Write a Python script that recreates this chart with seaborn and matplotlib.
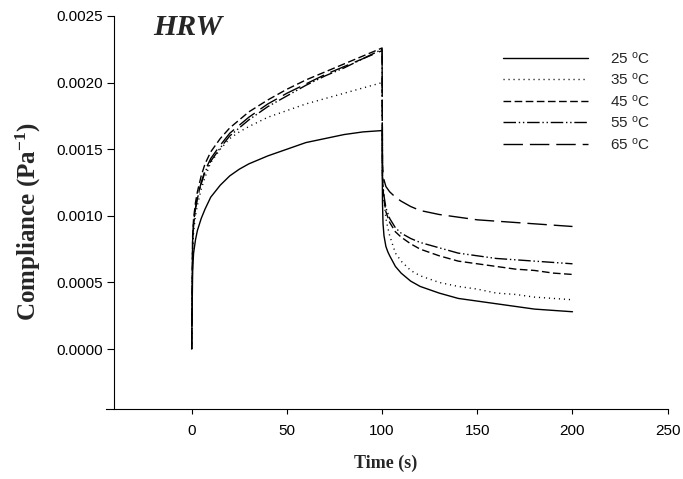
import matplotlib
matplotlib.use("Agg")
import matplotlib.pyplot as plt
from matplotlib.ticker import FormatStrFormatter
import numpy as np
import pandas as pd
import seaborn as sns

# ---- data ----
TIME = [0, 0.5, 1, 2, 3, 5, 7, 10, 15, 20, 25, 30, 40, 50, 60, 70, 80, 90, 100,
        100.2, 100.5, 101, 102, 103, 104, 107, 110, 115, 120, 130, 140, 150, 160, 170,
        180, 190, 200]

J_25 = [0, 0.00060, 0.00072, 0.00082, 0.00089, 0.00098, 0.00105, 0.00114, 0.00123, 0.00130,
        0.00135, 0.00139, 0.00145, 0.00150, 0.00155, 0.00158, 0.00161, 0.00163, 0.00164,
        0.00110, 0.00094, 0.00085, 0.00077, 0.00073, 0.00070, 0.00062, 0.00057, 0.00051,
        0.00047, 0.00042, 0.00038, 0.00036, 0.00034, 0.00032, 0.00030, 0.00029, 0.00028]
J_35 = [0, 0.00075, 0.00088, 0.00100, 0.00108, 0.00120, 0.00129, 0.00140, 0.00150, 0.00158,
        0.00163, 0.00167, 0.00174, 0.00179, 0.00184, 0.00188, 0.00192, 0.00196, 0.00200,
        0.00130, 0.00120, 0.00112, 0.00098, 0.00091, 0.00085, 0.00072, 0.00066, 0.00059,
        0.00055, 0.00050, 0.00047, 0.00045, 0.00042, 0.00041, 0.00039, 0.00038, 0.00037]
J_45 = [0, 0.00085, 0.00098, 0.00110, 0.00118, 0.00130, 0.00139, 0.00148, 0.00158, 0.00166,
        0.00172, 0.00178, 0.00187, 0.00195, 0.00202, 0.00208, 0.00214, 0.00220, 0.00226,
        0.00130, 0.00120, 0.00112, 0.00103, 0.00099, 0.00095, 0.00088, 0.00084, 0.00079,
        0.00075, 0.00070, 0.00066, 0.00064, 0.00062, 0.00060, 0.00059, 0.00057, 0.00056]
J_55 = [0, 0.00080, 0.00093, 0.00105, 0.00113, 0.00124, 0.00133, 0.00141, 0.00151, 0.00160,
        0.00166, 0.00172, 0.00182, 0.00190, 0.00198, 0.00205, 0.00211, 0.00218, 0.00225,
        0.00130, 0.00122, 0.00115, 0.00106, 0.00102, 0.00098, 0.00091, 0.00087, 0.00083,
        0.00080, 0.00076, 0.00072, 0.00070, 0.00068, 0.00067, 0.00066, 0.00065, 0.00064]
J_65 = [0, 0.00082, 0.00095, 0.00106, 0.00114, 0.00125, 0.00134, 0.00143, 0.00153, 0.00162,
        0.00168, 0.00174, 0.00184, 0.00192, 0.00199, 0.00206, 0.00212, 0.00218, 0.00224,
        0.00140, 0.00132, 0.00127, 0.00122, 0.00120, 0.00118, 0.00114, 0.00111, 0.00107,
        0.00104, 0.00101, 0.00099, 0.00097, 0.00096, 0.00095, 0.00094, 0.00093, 0.00092]

TEMPS = ["25", "35", "45", "55", "65"]
SERIES = [J_25, J_35, J_45, J_55, J_65]
XTICKS = [0, 50, 100, 150, 200, 250]
YTICKS = [0.0000, 0.0005, 0.0010, 0.0015, 0.0020, 0.0025]

sns.set_style("ticks")
plt.rcParams["font.family"] = ["Liberation Sans", "DejaVu Sans"]
plt.rcParams["mathtext.default"] = "regular"

rows = []
for temp, vals in zip(TEMPS, SERIES):
    for t, v in zip(TIME, vals):
        rows.append({"time": t, "J": v, "temp": temp})
df = pd.DataFrame(rows)

W, H = 683, 479
fig = plt.figure(figsize=(W / 100, H / 100), dpi=100)
ax = fig.add_axes([106 / W, (H - 409) / H, (667.7 - 106) / W, (409 - 16) / H])

styles = {
    "25": "-",
    "35": (0, (0.8, 2.8)),
    "45": (0, (5.5, 2.5)),
    "55": (0, (9, 2, 1, 2, 1, 2)),
    "65": (0, (14, 5)),
}
for temp in TEMPS:
    sub = df[df["temp"] == temp]
    sns.lineplot(data=sub, x="time", y="J", ax=ax, color="black", lw=1.0,
                 linestyle=styles[temp], sort=False, estimator=None,
                 label=f"{temp} $^{{o}}$C")

ax.set_xlim(-45, 250)
ax.set_ylim(-0.00045, 0.0025)
ax.set_xticks(XTICKS)
ax.set_yticks(YTICKS)
ax.yaxis.set_major_formatter(FormatStrFormatter("%.4f"))
sns.despine(ax=ax)
ax.spines["left"].set_position(("data", -40.8))
for s in ("left", "bottom"):
    ax.spines[s].set_linewidth(0.8)
    ax.spines[s].set_color("black")
ax.tick_params(axis="y", length=5, width=0.8, pad=3, labelsize=11, direction="out", colors="black")
ax.tick_params(axis="x", length=3.6, width=0.8, pad=7, labelsize=11, direction="out", colors="black")
ax.set_xlabel("")
ax.set_ylabel("")

handles, labels = ax.get_legend_handles_labels()
ax.legend(handles, labels, loc="upper left", bbox_to_anchor=(497 / W, 1 - 44 / H),
          bbox_transform=fig.transFigure, frameon=False, handlelength=5.56,
          handletextpad=1.44, labelspacing=0.365, fontsize=11, borderpad=0.4,
          borderaxespad=0)

fig.text(153 / W, 1 - 35 / H, "HRW", fontfamily="Liberation Serif", weight="bold",
         style="italic", fontsize=21.5, ha="left", va="baseline")
fig.text(28 / W, 1 - 222 / H, "Compliance (Pa$^{-1}$)", fontfamily="Liberation Serif",
         weight="bold", fontsize=18, rotation=90, ha="center", va="center")
fig.text(386 / W, 1 - 463 / H, "Time (s)", fontfamily="Liberation Serif",
         weight="bold", fontsize=13, ha="center", va="center")

fig.savefig("out.png", dpi=100)
